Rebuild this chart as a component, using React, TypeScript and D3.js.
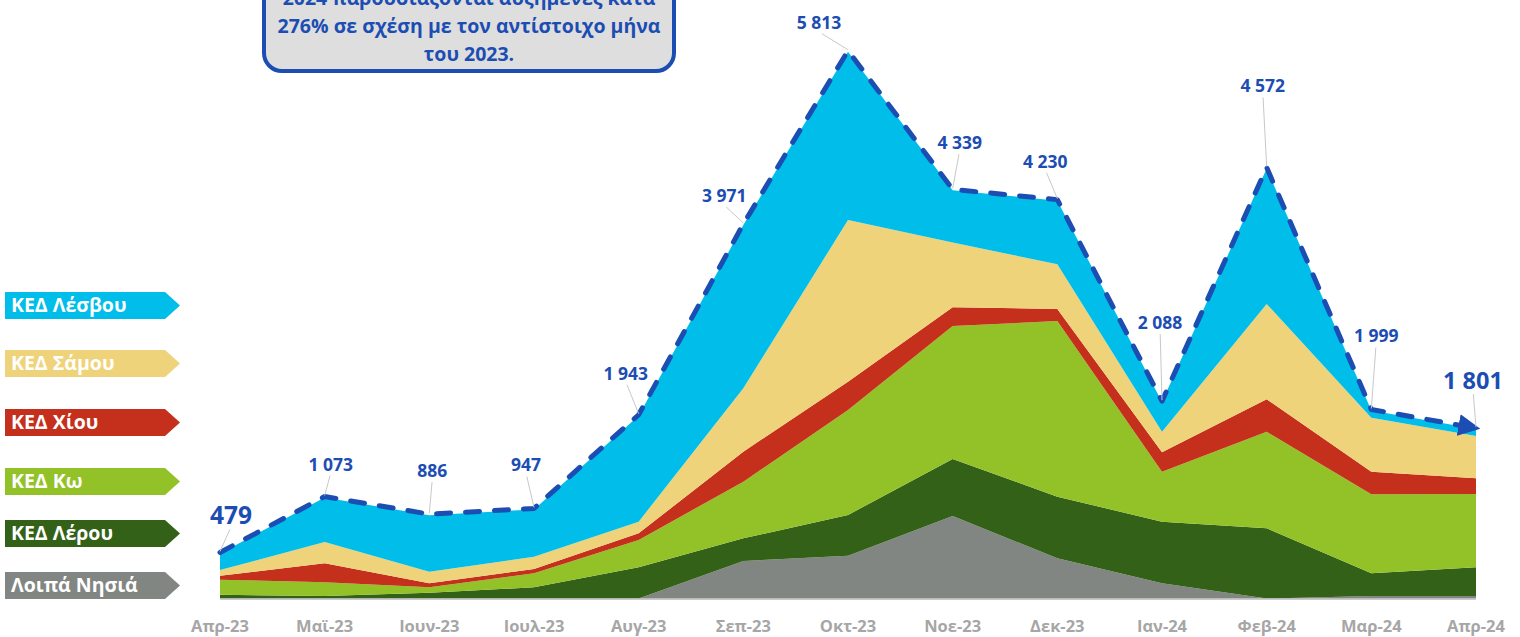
import React from "react";
import * as d3 from "d3";

const months = ["Απρ-23","Μαϊ-23","Ιουν-23","Ιουλ-23","Αυγ-23","Σεπ-23","Οκτ-23","Νοε-23","Δεκ-23","Ιαν-24","Φεβ-24","Μαρ-24","Απρ-24"];
const loipa = [0,0,0,0,0,399,455,877,427,161,0,27,27];
const leros = [40,27,62,119,332,241,433,606,655,656,746,241,305];
const kos = [160,145,57,149,290,602,1116,1414,1868,531,1027,840,779];
const chios = [43,202,43,46,71,319,301,199,128,206,345,240,167];
const samos = [60,226,123,130,124,674,1719,690,475,220,1013,574,450];
const lesvos = [176,473,601,503,1126,1736,1789,553,677,314,1441,77,73];
const totals = [479,1073,886,947,1943,3971,5813,4339,4230,2088,4572,1999,1801];
const seriesNames = ["Λοιπά Νησιά","ΚΕΔ Λέρου","ΚΕΔ Κω","ΚΕΔ Χίου","ΚΕΔ Σάμου","ΚΕΔ Λέσβου"];
const titleLines = ["2024 παρουσιάζονται αυξημένες κατά","276% σε σχέση με τον αντίστοιχο μήνα","του 2023."];

// layout (label offsets relative to point)
const labelOffsets: [number, number][] = [[11,-29],[6,-27],[3,-38],[-8,-38],[-13,-36],[-19,-23],[-29,-23],[7,-41],[-12,-33],[-2,-73],[-4,-76],[5,-68],[-3,-40]];
const colors = ["#828682","#336118","#92c227","#c4301b","#efd37a","#00bde9"];
const keys = ["loipa","leros","kos","chios","samos","lesvos"];

const FONT = "'Open Sans', 'Noto Sans', sans-serif";
const BLUE = "#1c4db2";

export default function App() {
  const W = 1520, H = 637;
  const x = d3.scalePoint<string>().domain(months).range([220, 1476]);
  const y = d3.scaleLinear().domain([0, 6000]).range([598.5, 598.5 - 6000 * 0.09406]);

  const rows = months.map((m, i) => ({
    m, loipa: loipa[i], leros: leros[i], kos: kos[i], chios: chios[i], samos: samos[i], lesvos: lesvos[i],
  }));
  const stack = d3.stack<any>().keys(keys)(rows);
  const area = d3.area<any>()
    .x((d: any) => x(d.data.m) as number)
    .y0((d: any) => y(d[0]))
    .y1((d: any) => y(d[1]));
  const topLine = d3.line<number>()
    .x((_, i) => x(months[i]) as number)
    .y((d) => y(d) - 1);

  const legendTops = [572, 520, 468, 409, 350, 292];

  return (
    <svg width={W} height={H} style={{ position: "absolute", left: 0, top: 0, background: "#fff" }} fontFamily={FONT}>
      <defs>
        <marker id="arr" viewBox="0 0 10 10" refX="8" refY="5" markerWidth="4.4" markerHeight="4.4" orient="auto" markerUnits="strokeWidth">
          <path d="M0,0 L10,5 L0,10 z" fill={BLUE} />
        </marker>
      </defs>
      {stack.map((s, i) => (
        <path key={keys[i]} d={area(s as any) || ""} fill={colors[i]} />
      ))}
      <line x1={220} x2={1476} y1={599} y2={599} stroke="#b8b8b8" strokeWidth={1.5} />
      <path d={topLine(totals) || ""} fill="none" stroke={BLUE} strokeWidth={5} strokeDasharray="14 15" strokeLinecap="round" strokeLinejoin="round" markerEnd="url(#arr)" />
      {totals.map((t, i) => {
        const px = x(months[i]) as number;
        const py = y(t);
        const [dx, dy] = labelOffsets[i];
        const big = i === 0 || i === totals.length - 1;
        const lx = px + dx, ly = py + dy;
        const txt = d3.format(",")(t).replace(",", " ");
        return (
          <g key={"l" + i}>
            <line x1={lx + (px - lx) * 0.1} y1={ly + 5} x2={px} y2={py - 2} stroke="#c8c8c8" strokeWidth={1} />
            <text x={lx} y={ly} textAnchor="middle" fontWeight={700} fontSize={i === 0 ? 24.5 : big ? 23.5 : 17.5} fill={BLUE}>{txt}</text>
          </g>
        );
      })}
      {months.map((m) => (
        <text key={m} x={x(m) as number} y={632} textAnchor="middle" fontWeight={700} fontSize={16.5} fill="#a6a6a6">{m}</text>
      ))}
      {seriesNames.map((n, i) => {
        const t = legendTops[i];
        const h = 27;
        const d = `M5,${t} L165,${t} L180,${t + h / 2} L165,${t + h} L5,${t + h} Z`;
        return (
          <g key={n}>
            <path d={d} fill={colors[i]} />
            <text x={11} y={t + 20} fontWeight={700} fontSize={19.5} fill="#ffffff">{n}</text>
          </g>
        );
      })}
      <rect x={264} y={-30} width={410} height={101} rx={18} fill="#dedede" stroke={BLUE} strokeWidth={4} />
      {titleLines.map((l, i) => (
        <text key={i} x={469} y={5 + i * 28} textAnchor="middle" fontWeight={700} fontSize={19.5} fill={BLUE}>{l}</text>
      ))}
    </svg>
  );
}
